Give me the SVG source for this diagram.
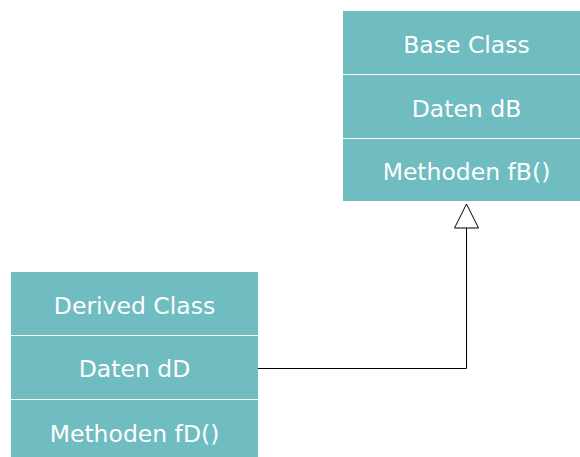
<svg xmlns="http://www.w3.org/2000/svg" width="580" height="457" viewBox="0 0 580 457">
<style>
.box{fill:#6fbcc1}
.div{stroke:#ffffff;stroke-width:1.2}
.t{font-family:"DejaVu Sans",Verdana,sans-serif;font-size:23.5px;fill:#ffffff;text-anchor:middle}
.conn{fill:none;stroke:#000000;stroke-width:1}
</style>
<rect width="580" height="457" fill="#ffffff"/>
<g id="base-class">
<rect class="box" x="343" y="11" width="247" height="190"/>
<line class="div" x1="343" y1="74.5" x2="590" y2="74.5"/>
<line class="div" x1="343" y1="138.5" x2="590" y2="138.5"/>
<text class="t" x="466.5" y="52.5">Base Class</text>
<text class="t" x="466.5" y="116.5">Daten dB</text>
<text class="t" x="466.5" y="180">Methoden fB()</text>
</g>
<g id="derived-class">
<rect class="box" x="11" y="272" width="247" height="195"/>
<line class="div" x1="11" y1="335.5" x2="258" y2="335.5"/>
<line class="div" x1="11" y1="399.5" x2="258" y2="399.5"/>
<text class="t" x="134.5" y="313.5">Derived Class</text>
<text class="t" x="134.5" y="377">Daten dD</text>
<text class="t" x="134.5" y="441.5">Methoden fD()</text>
</g>
<g id="connectors">
<polyline class="conn" points="258,368.5 466.5,368.5 466.5,228"/>
<polygon class="conn" fill="#ffffff" points="466.5,204 454.5,228 478.5,228"/>
</g>
</svg>
